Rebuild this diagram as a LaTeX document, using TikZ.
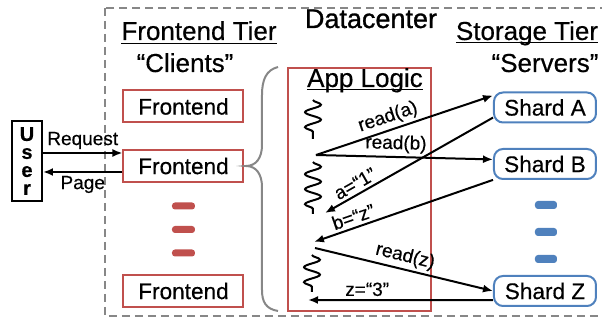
\documentclass[tikz,border=0pt]{standalone}
\usepackage{fontspec}
\setmainfont{Liberation Sans}[FakeBold=0.4]
\newfontfamily\dcfont{Liberation Sans}[FakeBold=1]
\usetikzlibrary{arrows.meta,decorations.pathmorphing}

\definecolor{tierred}{RGB}{192,80,77}
\definecolor{shardblue}{RGB}{79,129,189}
\definecolor{dcgray}{RGB}{135,135,135}

\begin{document}
\begin{tikzpicture}[
            x = 0.5pt, y = -0.5pt, % one unit per reference pixel
            > = {Latex[length=5pt, width=4pt]}, % arrow head style
            node distance = 11.75pt, % distance between dashes
            line width = 1pt
        ]

        \tikzstyle{frontend}=[
            draw = tierred,
            minimum width = 60pt,
            minimum height = 16pt,
            inner sep = 0pt,
            font = \fontsize{11.3}{13}\selectfont
        ]
        \tikzstyle{shard}=[
            draw = shardblue,
            rounded corners = 4.5pt,
            minimum width = 51pt,
            minimum height = 15pt,
            inner sep = 0pt,
            font = \fontsize{11.3}{13}\selectfont
        ]
        \tikzstyle{heading}=[anchor = base, inner sep = 0pt, font = \fontsize{13}{15}\selectfont]
        \tikzstyle{msg}=[inner sep = 1.5pt, font = \fontsize{9.5}{11}\selectfont]
        \tikzstyle{reddash}=[fill = tierred, rounded corners = 1.5pt, minimum width = 11.5pt, minimum height = 3.5pt, inner sep = 0pt]
        \tikzstyle{bluedash}=[fill = shardblue, rounded corners = 1.5pt, minimum width = 11pt, minimum height = 4pt, inner sep = 0pt]
        \tikzstyle{thread}=[decorate, decoration = {snake, segment length = 7.5pt, amplitude = 4pt}, line width = 1pt]

        \clip (0,0) rectangle (602,320);

        % datacenter
        \draw[dcgray, dash pattern = on 4pt off 2.5pt] (105,8) rectangle (640,316);
        \node[heading, font = \dcfont\fontsize{13.5}{15}\selectfont] (dc) at (371,28) {Datacenter};

        % frontend tier
        \node[heading] (ftier) at (199,40) {\underline{Frontend Tier}};
        \node[heading] (clients) at (185,72) {“Clients”};
        \node[frontend] (fe1) at (183.5,106.5) {Frontend};
        \node[frontend] (fe2) at (183.5,166) {Frontend};
        \node[frontend] (fe3) at (183.5,291) {Frontend};
        \node[reddash] (fd1) at (183.5,206) {};
        \node[reddash] (fd2) [below of=fd1] {};
        \node[reddash] (fd3) [below of=fd2] {};

        % brace
        \draw[dcgray] (278,67) .. controls (266,70) and (262,80) .. (262,95) -- (262,145)
            .. controls (262,158) and (256,166) .. (246,166)
            .. controls (256,166) and (262,174) .. (262,187) -- (262,290)
            .. controls (262,302) and (266,309) .. (278,311);

        % app logic
        \node[draw = tierred, minimum width = 71.5pt, minimum height = 121.5pt] (app) at (359.5,189.5) {};
        \node[heading] (applogic) at (365,87) {\underline{\smash{App Logic}}};
        \draw[thread] (313,100) -- (313,139);
        \draw[thread] (313,162) -- (313,214);
        \draw[thread] (312,255) -- (312,292);

        % storage tier
        \node[heading] (stier) at (527,40) {\underline{\smash{Storage Tier}}};
        \node[heading] (servers) at (545,72) {“Servers”};
        \node[shard] (shA) at (545,107.5) {Shard A};
        \node[shard] (shB) at (545,164) {Shard B};
        \node[shard] (shZ) at (545,291) {Shard Z};
        \node[bluedash] (bd1) at (546,205) {};
        \node[bluedash] (bd2) [below of=bd1, node distance = 13.5pt] {};
        \node[bluedash] (bd3) [below of=bd2, node distance = 13.5pt] {};

        % user
        \node[draw, minimum width = 15pt, minimum height = 40pt, inner sep = 0pt,
            align = center, font = \bfseries\fontsize{10}{9}\selectfont] (user) at (27,161) {U\\s\\e\\r};

        \draw[->] ([yshift=4pt]user.east) -- node[msg, above] {Request} ([yshift=4pt]user.east -| fe2.west);
        \draw[->] ([yshift=-3pt]fe2.west) -- node[msg, below] {Page} ([yshift=-3pt]fe2.west -| user.east);

        % requests and replies
        \coordinate (ra) at (316,155);
        \coordinate (ga) at (325,213);
        \coordinate (gb) at (314,242);
        \coordinate (rz) at (315,248);
        \coordinate (gz) at (308,300);

        \draw[->] (ra) -- node[msg, sloped, above, pos=0.43] {read(a)} (shA.167);
        \draw[->] (ra) -- node[msg, sloped, above, pos=0.45] {read(b)} (shB.175);
        \draw[->] (shA.191) -- node[msg, sloped, above, pos=0.79] {a=“1”} (ga);
        \draw[->] (shB.197) -- node[msg, sloped, above, pos=0.76] {b=“z”} (gb);
        \draw[->] (rz) -- node[msg, sloped, above, pos=0.49] {read(z)} (shZ.west);
        \draw[->] (shZ.190) -- node[msg, above, pos=0.68] {z=“3”} (gz);

    \end{tikzpicture}
\end{document}
